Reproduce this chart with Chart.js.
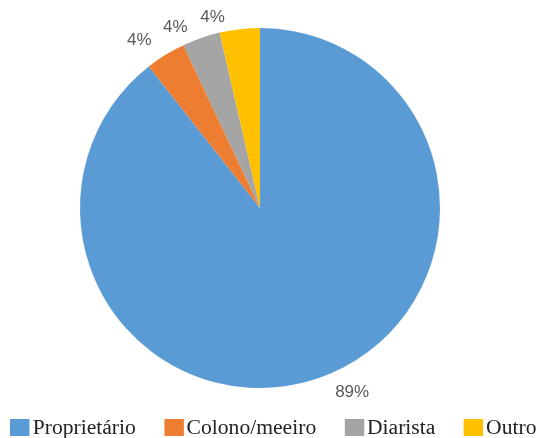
<!DOCTYPE html>
<html>
<head>
<meta charset="utf-8">
<script src="https://cdn.jsdelivr.net/npm/chart.js@4"></script>
<style>
  html, body { margin: 0; padding: 0; background: #fff; }
  #wrap { position: relative; width: 538px; height: 438px; }
  #legend {
    position: absolute; left: 10px; top: 416px; height: 22px;
    display: flex; align-items: center; gap: 26px;
    transform: scaleX(1.08); transform-origin: left center;
    font-family: "Liberation Serif", "Times New Roman", serif;
    font-size: 20px; color: #222;
    white-space: nowrap;
  }
  #legend .item { display: flex; align-items: center; }
  #legend .box { width: 18px; height: 17px; margin-right: 3px; }
</style>
</head>
<body>
<div id="wrap">
  <canvas id="pieChart" width="538" height="438"></canvas>
  <div id="legend"></div>
</div>
<script>
// Categorias e valores (%)
const categories = ['Proprietário', 'Colono/meeiro', 'Diarista', 'Outro'];
const values = [89.4, 3.6, 3.4, 3.6];
const labelsText = ['89%', '4%', '4%', '4%'];
const colors = ['#5B9BD5', '#ED7D31', '#A5A5A5', '#FFC000'];

// rótulos de porcentagem fora da pizza (como no Excel, ligeiramente deslocados)
const outsideLabels = {
    id: 'outsideLabels',
    afterDatasetsDraw(chart, args, opts) {
        const ctx = chart.ctx;
        const meta = chart.getDatasetMeta(0);
        ctx.save();
        ctx.font = '17px "Liberation Sans", Arial, sans-serif';
        ctx.fillStyle = '#595959';
        ctx.textAlign = 'center';
        ctx.textBaseline = 'middle';
        meta.data.forEach((arc, i) => {
            const p = arc.getProps(['x', 'y', 'startAngle', 'endAngle', 'outerRadius'], true);
            const mid = (p.startAngle + p.endAngle) / 2 + opts.shift[i] * Math.PI / 180;
            const r = p.outerRadius + opts.gap[i];
            ctx.fillText(labelsText[i], p.x + Math.cos(mid) * r, p.y + Math.sin(mid) * r);
        });
        ctx.restore();
    }
};

const ctx = document.getElementById('pieChart').getContext('2d');
new Chart(ctx, {
    type: 'pie',
    data: {
        labels: categories,
        datasets: [{
            data: values,
            backgroundColor: colors,
            borderWidth: 0
        }]
    },
    options: {
        responsive: false,
        animation: false,
        layout: {
            padding: { top: 28, right: 18, bottom: 50, left: 0 }
        },
        plugins: {
            legend: { display: false },
            tooltip: { enabled: false },
            outsideLabels: {
                shift: [-7.5, -4, -6, -7.5],
                gap: [26, 27, 20, 16]
            }
        }
    },
    plugins: [outsideLabels]
});

// legenda
const legend = document.getElementById('legend');
categories.forEach((name, i) => {
    const item = document.createElement('div');
    item.className = 'item';
    const box = document.createElement('span');
    box.className = 'box';
    box.style.background = colors[i];
    const txt = document.createElement('span');
    txt.textContent = name;
    item.appendChild(box);
    item.appendChild(txt);
    legend.appendChild(item);
});
</script>
</body>
</html>
